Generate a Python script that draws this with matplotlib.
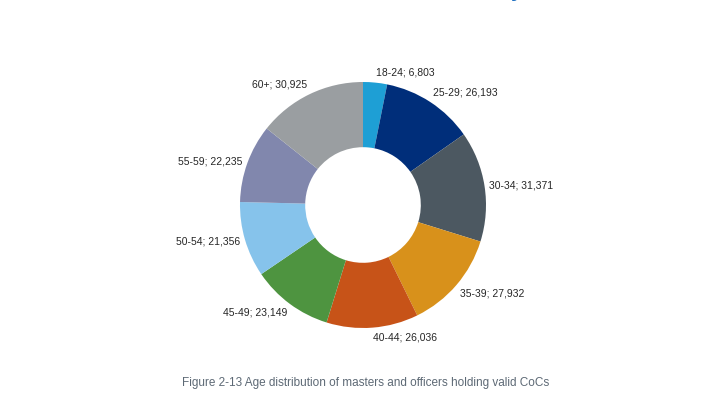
import numpy as np
import matplotlib
matplotlib.use("Agg")
import matplotlib.pyplot as plt

plt.rcParams["font.family"] = ["Liberation Sans", "DejaVu Sans"]

# age groups and number of CoCs
groups = ["18-24", "25-29", "30-34", "35-39", "40-44", "45-49", "50-54", "55-59", "60+"]
counts = [6803, 26193, 31371, 27932, 26036, 23149, 21356, 22235, 30925]
colors = ["#1e9fd5", "#002e7a", "#4c5861", "#d8911b", "#c75318",
          "#4e9440", "#86c3eb", "#8187ad", "#9a9ea1"]
caption = "Figure 2-13 Age distribution of masters and officers holding valid CoCs"

W, H = 722, 399
R_PX = 123.0          # outer radius in pixels
CX, CY = 363, 205     # centre of the ring (pixels from top-left)

fig = plt.figure(figsize=(W / 100, H / 100), dpi=100)
ax = fig.add_axes([0, 0, 1, 1])

wedges, _ = ax.pie(counts, colors=colors, startangle=90, counterclock=False,
                   radius=1.0, wedgeprops=dict(width=0.53, linewidth=0))

ax.set_xlim(-CX / R_PX, (W - CX) / R_PX)
ax.set_ylim(-(H - CY) / R_PX, CY / R_PX)
ax.set_aspect("auto")
ax.axis("off")

# data labels outside end, excel style
for w, g, c in zip(wedges, groups, counts):
    ang = np.deg2rad((w.theta1 + w.theta2) / 2)
    x, y = np.cos(ang), np.sin(ang)
    ha = "left" if x >= 0 else "right"
    if y > 0.5:
        va = "bottom"
    elif y < -0.5:
        va = "top"
    else:
        va = "center"
    ax.text(1.04 * x, 1.04 * y, f"{g}; {c:,}", ha=ha, va=va,
            fontsize=7.5, color="#262626")

fig.text(366 / W, 1 - 383 / H, caption, ha="center", va="center",
         fontsize=8.5, color="#5d6975")

# cut-off heading from the page above, only the tail of the y shows
fig.text(511 / W, 1.0 + 2.5 / H, "y", ha="left", va="baseline", fontsize=15,
         fontweight="bold", color="#1f70c1")

fig.savefig("out.png", dpi=100)
